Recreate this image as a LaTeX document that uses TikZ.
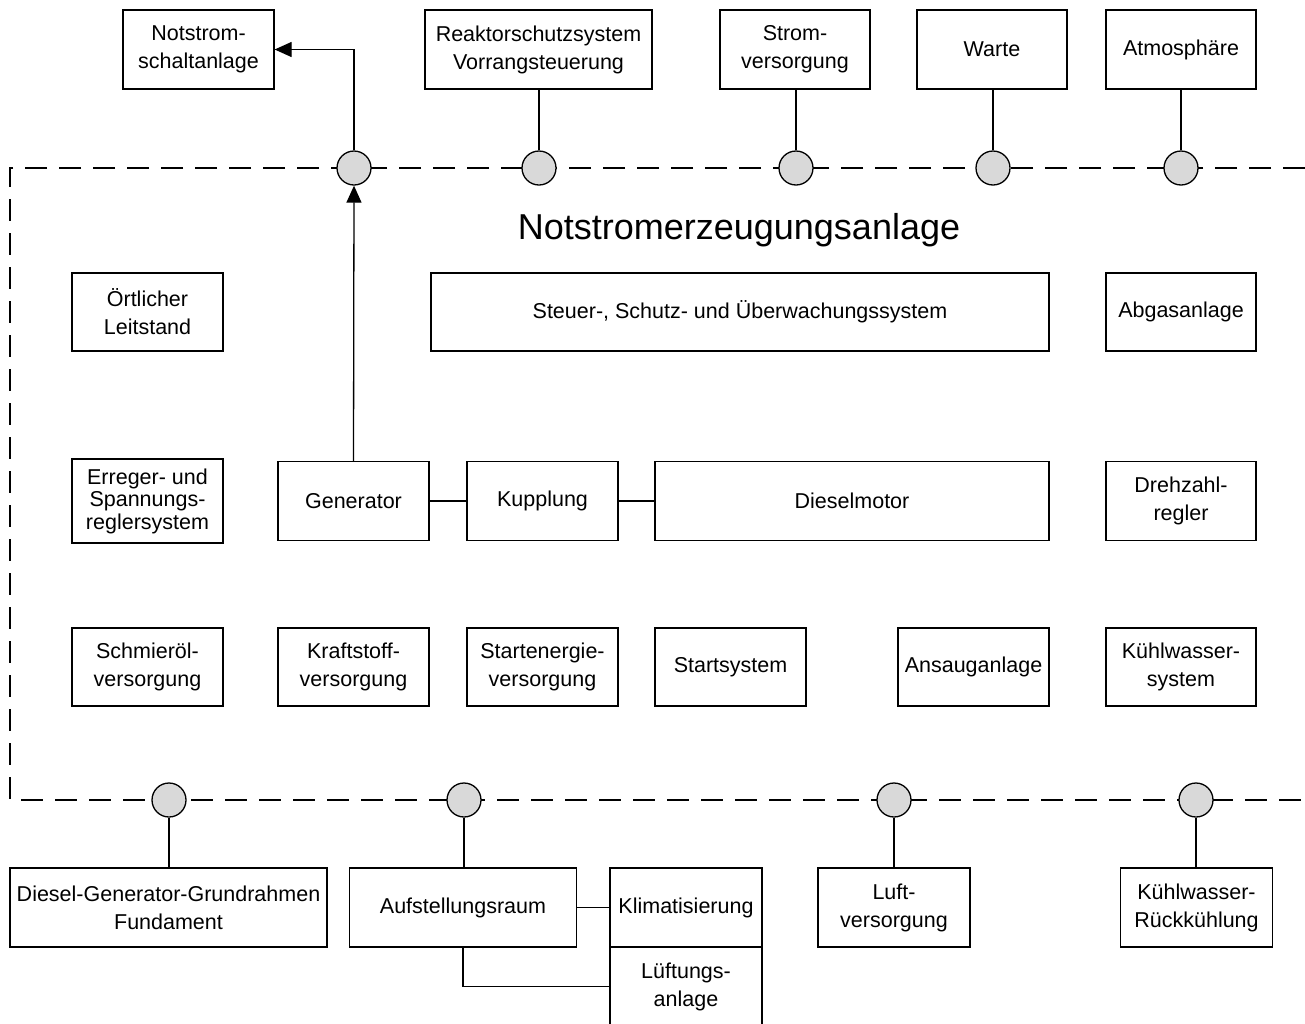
\documentclass[tikz,border=0pt]{standalone}
\usepackage{fontspec}
\setmainfont{Liberation Sans}
\usetikzlibrary{arrows.meta}
\begin{document}
\begin{tikzpicture}[x=1pt,y=-1pt,
  box/.style={draw, line width=1.3pt, minimum width=#1, minimum height=79pt, inner sep=0pt, align=center, font=\fontsize{21.5}{28}\selectfont},
  box/.default=151pt,
  port/.style={circle, draw, line width=1.3pt, fill=black!15, minimum size=34pt, inner sep=0pt},
  conn/.style={line width=1.3pt},
  arr/.style={line width=1.3pt, -{Triangle[length=17pt,width=15pt]}},
  border/.style={line width=2pt, dash pattern=on 22pt off 12pt}
]
\useasboundingbox (0,0) rectangle (1305,1023);
% system border
\draw[border] (1305,168) -- (10,168) -- (10,800) -- (1305,800);

% top external boxes
\node[box=151pt] (ns) at (198.5,49.5) {Notstrom-\\schaltanlage};
\node[box=227pt] (rs) at (538.5,49.5) {Reaktorschutzsystem\\Vorrangsteuerung};
\node[box=150pt] (sv) at (795,49.5) {Strom-\\versorgung};
\node[box=150pt] (wa) at (992,49.5) {Warte};
\node[box=150pt] (at) at (1181,49.5) {Atmosphäre};

% top ports
\node[port] (c1) at (354,168) {};
\node[port] (c2) at (539,168) {};
\node[port] (c3) at (796,168) {};
\node[port] (c4) at (993,168) {};
\node[port] (c5) at (1181,168) {};

% title
\node[font=\fontsize{36}{40}\selectfont] (title) at (739,230) {Notstromerzeugungsanlage};

% row 1
\node[box=151pt, minimum height=78pt] (ol) at (147.5,312) {Örtlicher\\Leitstand};
\node[box=618pt, minimum height=78pt] (st) at (740,312) {Steuer-, Schutz- und Überwachungssystem};
\node[box=150pt, minimum height=78pt] (ab) at (1181,312) {Abgasanlage};

% row 2
\node[box=151pt, minimum height=84pt, font=\fontsize{21.5}{22.5}\selectfont] (er) at (147.5,501) {Erreger- und\\Spannungs-\\reglersystem};
\node[box=151pt] (ge) at (353.5,501) {Generator};
\node[box=151pt] (ku) at (542.5,501) {Kupplung};
\node[box=394pt] (dm) at (852,501) {Dieselmotor};
\node[box=150pt] (dr) at (1181,501) {Drehzahl-\\regler};

% row 3
\node[box=151pt, minimum height=78pt] (sm) at (147.5,667) {Schmieröl-\\versorgung};
\node[box=151pt, minimum height=78pt] (kf) at (353.5,667) {Kraftstoff-\\versorgung};
\node[box=151pt, minimum height=78pt] (se) at (542.5,667) {Startenergie-\\versorgung};
\node[box=151pt, minimum height=78pt] (ss) at (730.5,667) {Startsystem};
\node[box=151pt, minimum height=78pt] (an) at (973.5,667) {Ansauganlage};
\node[box=150pt, minimum height=78pt] (kw) at (1181,667) {Kühlwasser-\\system};

% bottom ports
\node[port] (d1) at (169,800) {};
\node[port] (d2) at (464,800) {};
\node[port] (d3) at (894,800) {};
\node[port] (d4) at (1196,800) {};

% bottom external boxes
\node[box=317pt] (dg) at (168.5,907.5) {Diesel-Generator-Grundrahmen\\Fundament};
\node[box=227pt] (au) at (463,907.5) {Aufstellungsraum};
\node[box=152pt] (kl) at (686,907.5) {Klimatisierung};
\node[box=152pt] (lu) at (686,986.5) {Lüftungs-\\anlage};
\node[box=152pt] (lv) at (894,907.5) {Luft-\\versorgung};
\node[box=152pt] (rk) at (1196.5,907.5) {Kühlwasser-\\Rückkühlung};

% connectors top
\draw[arr] (c1.north) |- (ns.east);
\draw[conn] (c2.north) -- (c2.north |- rs.south);
\draw[conn] (c3.north) -- (c3.north |- sv.south);
\draw[conn] (c4.north) -- (c4.north |- wa.south);
\draw[conn] (c5.north) -- (c5.north |- at.south);

% internal connectors
\draw[arr] (ge.north) -- (c1.south);
\draw[conn] (ge.east) -- (ku.west);
\draw[conn] (ku.east) -- (dm.west);

% connectors bottom
\draw[conn] (d1.south) -- (d1.south |- dg.north);
\draw[conn] (d2.south) -- (d2.south |- au.north);
\draw[conn] (d3.south) -- (d3.south |- lv.north);
\draw[conn] (d4.south) -- (d4.south |- rk.north);
\draw[conn] (au.east) -- (kl.west);
\draw[conn] (au.south) |- (lu.west);
\end{tikzpicture}
\end{document}
